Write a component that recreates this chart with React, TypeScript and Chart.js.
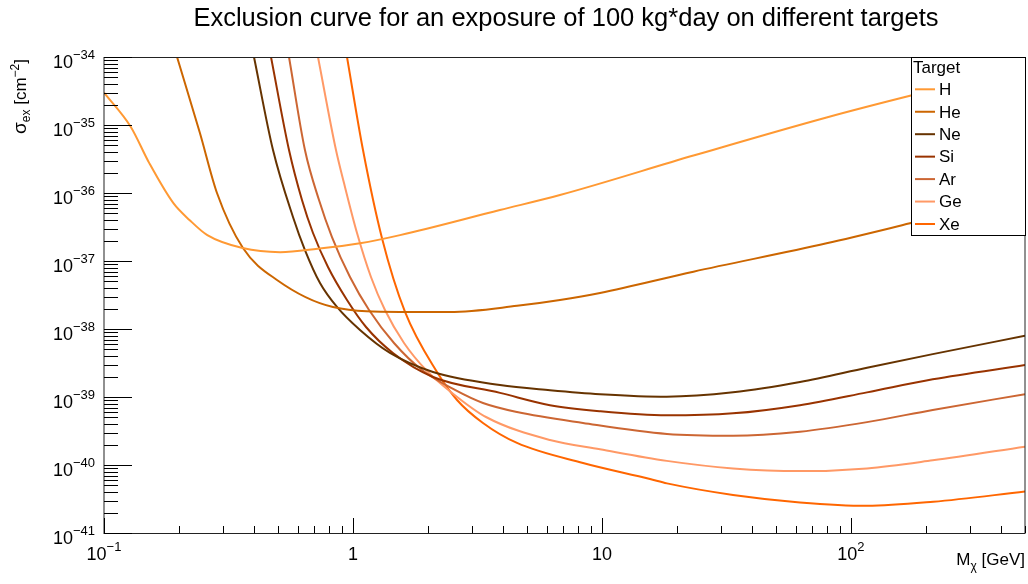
import React, { useEffect, useRef } from "react";
import { Chart, registerables } from "chart.js";

Chart.register(...registerables);

// ---------------- data ----------------
const titleText = "Exclusion curve for an exposure of 100 kg*day on different targets";
const legendHeader = "Target";
const targetNames = ["H", "He", "Ne", "Si", "Ar", "Ge", "Xe"];
const targetColors = ["#ff9933", "#cc6600", "#663300", "#993300", "#cc6633", "#ff9966", "#ff6600"];

const massH = [0.1, 0.128, 0.152, 0.19, 0.221, 0.26, 0.36, 0.51, 0.72, 1.067, 1.545, 3.89, 6.78, 23.3, 79.8, 172.6, 500];
const sigmaH = [2.99e-35, 9.44e-36, 2.75e-36, 7.08e-37, 3.98e-37, 2.4e-37, 1.55e-37, 1.35e-37, 1.51e-37, 1.82e-37, 2.4e-37, 5.62e-37, 9.33e-37, 3.55e-36, 1.29e-35, 2.69e-35, 6.92e-35];

const massHe = [0.1965, 0.2428, 0.2843, 0.3615, 0.4951, 0.8311, 1.545, 2.45, 4.56, 6.78, 9.82, 23.3, 79.8, 172.6, 500];
const sigmaHe = [1.0e-34, 7.62e-36, 1.0e-36, 1.55e-37, 5.26e-38, 2.11e-38, 1.78e-38, 1.78e-38, 2.19e-38, 2.67e-38, 3.39e-38, 6.97e-38, 1.82e-37, 3.58e-37, 9.33e-37];

const massNe = [0.4003, 0.4773, 0.5741, 0.6413, 0.7371, 0.8623, 1.067, 1.408, 2.096, 3.894, 6.18, 9.82, 18.2, 33.6, 62.4, 116, 213, 500];
const sigmaNe = [1.0e-34, 4.28e-36, 4.44e-37, 1.45e-37, 4.75e-38, 2.11e-38, 9.66e-39, 4.44e-39, 2.33e-39, 1.5e-39, 1.26e-39, 1.1e-39, 1.01e-39, 1.17e-39, 1.66e-39, 2.69e-39, 4.27e-39, 7.94e-39];

const massSi = [0.4685, 0.5534, 0.6239, 0.6909, 0.7935, 0.9461, 1.128, 1.447, 2.096, 3.894, 6.18, 9.82, 18.2, 33.6, 62.4, 116, 213, 500];
const sigmaSi = [1.0e-34, 4.28e-36, 7.88e-37, 2.58e-37, 8.17e-38, 2.67e-38, 1.07e-38, 4.44e-39, 1.97e-39, 1.15e-39, 7.59e-40, 6.17e-40, 5.37e-40, 5.75e-40, 7.59e-40, 1.17e-39, 1.82e-39, 2.95e-39];

const massAr = [0.5534, 0.6413, 0.7303, 0.8234, 0.9727, 1.16, 1.461, 1.893, 2.568, 3.327, 4.557, 8.39, 18.24, 33.6, 62.4, 116, 213, 500];
const sigmaAr = [1.0e-34, 4.28e-36, 7.88e-37, 2.25e-37, 5.82e-38, 1.9e-38, 6.22e-39, 2.49e-39, 1.27e-39, 8.16e-40, 6.01e-40, 4.15e-40, 2.86e-40, 2.69e-40, 3.09e-40, 4.27e-40, 6.46e-40, 1.1e-39];

const massGe = [0.7235, 0.8545, 0.9202, 1.038, 1.181, 1.344, 1.603, 1.965, 2.498, 3.421, 6.182, 9.82, 18.2, 33.6, 62.4, 116, 213, 500];
const sigmaGe = [1.0e-34, 4.28e-36, 1.4e-36, 2.58e-37, 5.82e-38, 1.9e-38, 6.22e-39, 2.49e-39, 1.15e-39, 5.08e-40, 2.33e-40, 1.7e-40, 1.15e-40, 8.91e-41, 8.13e-41, 8.91e-41, 1.17e-40, 1.86e-40];

const massXe = [0.9461, 1.097, 1.307, 1.618, 2.175, 2.617, 3.327, 4.557, 8.39, 15.59, 18.24, 33.6, 62.4, 116, 214, 500];
const sigmaXe = [1.0e-34, 4.28e-36, 2.18e-37, 1.78e-38, 2.33e-39, 9.04e-40, 4.15e-40, 2.11e-40, 1.07e-40, 6.22e-41, 5.37e-41, 3.63e-41, 2.82e-41, 2.51e-41, 2.88e-41, 4.07e-41];

const xMin = 0.1;
const xMax = 500;
const yMin = 1e-41;
const yMax = 1e-34;

const xTickValues = [0.1, 1, 10, 100];
const xTickBases = ["10", "1", "10", "10"];
const xTickSups = ["\u22121", "", "", "2"];

const yTickValues = [1e-41, 1e-40, 1e-39, 1e-38, 1e-37, 1e-36, 1e-35, 1e-34];
const yTickBases = ["10", "10", "10", "10", "10", "10", "10", "10"];
const yTickSups = ["\u221241", "\u221240", "\u221239", "\u221238", "\u221237", "\u221236", "\u221235", "\u221234"];

// ---------------- drawing helpers ----------------
const FONT = '"Liberation Sans", Arial, Helvetica, sans-serif';

function textWidth(ctx: CanvasRenderingContext2D, t: string, size: number) {
  ctx.font = `${size}px ${FONT}`;
  return ctx.measureText(t).width;
}

function drawSup(
  ctx: CanvasRenderingContext2D,
  base: string,
  sup: string,
  x: number,
  y: number,
  align: "left" | "center" | "right",
  baseSize: number,
  supSize: number,
  raise: number
) {
  const wb = textWidth(ctx, base, baseSize);
  const ws = sup ? textWidth(ctx, sup, supSize) : 0;
  const total = wb + ws;
  const x0 = align === "right" ? x - total : align === "center" ? x - total / 2 : x;
  ctx.textAlign = "left";
  ctx.textBaseline = "alphabetic";
  ctx.font = `${baseSize}px ${FONT}`;
  ctx.fillText(base, x0, y);
  if (sup) {
    ctx.font = `${supSize}px ${FONT}`;
    ctx.fillText(sup, x0 + wb, y - raise);
  }
}

const rootPlugin = {
  id: "rootStyle",
  beforeDraw(chart: any) {
    const ctx = chart.ctx as CanvasRenderingContext2D;
    ctx.save();
    ctx.fillStyle = "#ffffff";
    ctx.fillRect(0, 0, chart.width, chart.height);
    ctx.restore();
  },
  afterDraw(chart: any) {
    const ctx = chart.ctx as CanvasRenderingContext2D;
    const a = chart.chartArea;
    const xs = chart.scales.x;
    const ys = chart.scales.y;
    ctx.save();

    // frame
    ctx.strokeStyle = "#222";
    ctx.lineWidth = 1;
    ctx.strokeRect(a.left, a.top + 0.5, a.right - a.left, a.bottom - a.top);

    // ticks
    ctx.strokeStyle = "#000";
    ctx.beginPath();
    const yMajorLen = 28, yMinorLen = 14, xMajorLen = 15, xMinorLen = 7;
    for (let e = -41; e <= -34; e++) {
      for (let k = 1; k <= 9; k++) {
        const v = k * Math.pow(10, e);
        if (v < yMin * 0.999 || v > yMax * 1.001) continue;
        const py = Math.round(ys.getPixelForValue(v)) + 0.5;
        const len = k === 1 ? yMajorLen : yMinorLen;
        ctx.moveTo(a.left, py);
        ctx.lineTo(a.left + len, py);
      }
    }
    for (let e = -1; e <= 2; e++) {
      for (let k = 1; k <= 9; k++) {
        const v = k * Math.pow(10, e);
        if (v < xMin * 0.999 || v > xMax * 1.001) continue;
        const px = Math.round(xs.getPixelForValue(v)) + 0.5;
        const len = k === 1 ? xMajorLen : xMinorLen;
        ctx.moveTo(px, a.bottom);
        ctx.lineTo(px, a.bottom - len);
      }
    }
    ctx.stroke();

    // tick labels
    ctx.fillStyle = "#000";
    xTickValues.forEach((v, i) => {
      const px = xs.getPixelForValue(v);
      drawSup(ctx, xTickBases[i], xTickSups[i], px, 560, "center", 18, 13, 9);
    });
    yTickValues.forEach((v, i) => {
      const py = ys.getPixelForValue(v);
      drawSup(ctx, yTickBases[i], yTickSups[i], 95, py + 11, "right", 18, 13, 9);
    });

    // x axis title: M_chi [GeV]
    {
      const parts = [
        { t: "M", s: 17, dy: 0 },
        { t: "\u03c7", s: 12, dy: 5 },
        { t: " [GeV]", s: 17, dy: 0 },
      ];
      const tot = parts.reduce((acc, p) => acc + textWidth(ctx, p.t, p.s), 0);
      let x = a.right - tot;
      ctx.textAlign = "left";
      ctx.textBaseline = "alphabetic";
      for (const p of parts) {
        ctx.font = `${p.s}px ${FONT}`;
        ctx.fillText(p.t, x, 565 + p.dy);
        x += ctx.measureText(p.t).width;
      }
    }

    // y axis title: sigma_ex [cm^-2]
    {
      const parts = [
        { t: "\u03c3", s: 19, dy: 0 },
        { t: "ex", s: 12, dy: 4 },
        { t: " [cm", s: 17, dy: 0 },
        { t: "\u22122", s: 12, dy: -7 },
        { t: "]", s: 17, dy: 0 },
      ];
      const tot = parts.reduce((acc, p) => acc + textWidth(ctx, p.t, p.s), 0);
      ctx.save();
      ctx.translate(26, a.top + 2);
      ctx.rotate(-Math.PI / 2);
      let x = -tot;
      ctx.textAlign = "left";
      ctx.textBaseline = "alphabetic";
      for (const p of parts) {
        ctx.font = `${p.s}px ${FONT}`;
        ctx.fillText(p.t, x, p.dy);
        x += ctx.measureText(p.t).width;
      }
      ctx.restore();
    }

    // title
    ctx.font = `25.5px ${FONT}`;
    ctx.textAlign = "center";
    ctx.textBaseline = "alphabetic";
    ctx.fillText(titleText, 566, 26);

    // legend box
    const lx = 911, ly = a.top, lw = a.right - 911, lh = 178;
    ctx.fillStyle = "#fff";
    ctx.fillRect(lx, ly, lw, lh);
    ctx.strokeStyle = "#000";
    ctx.lineWidth = 1;
    ctx.strokeRect(lx + 0.5, ly + 0.5, lw, lh);
    ctx.fillStyle = "#000";
    ctx.font = `17px ${FONT}`;
    ctx.textAlign = "left";
    ctx.fillText(legendHeader, 913, 72.6);
    targetNames.forEach((name, i) => {
      const yy = 89.3 + i * 22.45;
      ctx.strokeStyle = targetColors[i];
      ctx.lineWidth = 2;
      ctx.beginPath();
      ctx.moveTo(915, yy);
      ctx.lineTo(935, yy);
      ctx.stroke();
      ctx.fillStyle = "#000";
      ctx.font = `17px ${FONT}`;
      ctx.fillText(name, 939, yy + 5.8);
    });

    ctx.restore();
  },
};

const massSeries = [massH, massHe, massNe, massSi, massAr, massGe, massXe];
const sigmaSeries = [sigmaH, sigmaHe, sigmaNe, sigmaSi, sigmaAr, sigmaGe, sigmaXe];

export default function App() {
  const ref = useRef<HTMLCanvasElement | null>(null);
  useEffect(() => {
    const canvas = ref.current;
    if (!canvas) return;
    const datasets = targetNames.map((name, i) => ({
      label: name,
      data: massSeries[i].map((m, j) => ({ x: m, y: sigmaSeries[i][j] })),
      borderColor: targetColors[i],
      backgroundColor: targetColors[i],
      borderWidth: 2,
      pointRadius: 0,
      showLine: true,
      fill: false,
      cubicInterpolationMode: "monotone" as const,
    }));
    const chart = new Chart(canvas, {
      type: "scatter",
      data: { datasets },
      options: {
        animation: false,
        responsive: false,
        devicePixelRatio: 1,
        events: [],
        layout: { padding: { left: 104, right: 3, top: 57, bottom: 51 } },
        scales: {
          x: { type: "logarithmic", min: xMin, max: xMax, display: false },
          y: { type: "logarithmic", min: yMin, max: yMax, display: false },
        },
        plugins: {
          legend: { display: false },
          title: { display: false },
          tooltip: { enabled: false },
        },
      } as any,
      plugins: [rootPlugin as any],
    });
    return () => chart.destroy();
  }, []);
  return (
    <div style={{ position: "fixed", left: 0, top: 0, width: 1028, height: 584, background: "#fff" }}>
      <canvas ref={ref} width={1028} height={584} style={{ display: "block", width: 1028, height: 584 }} />
    </div>
  );
}
